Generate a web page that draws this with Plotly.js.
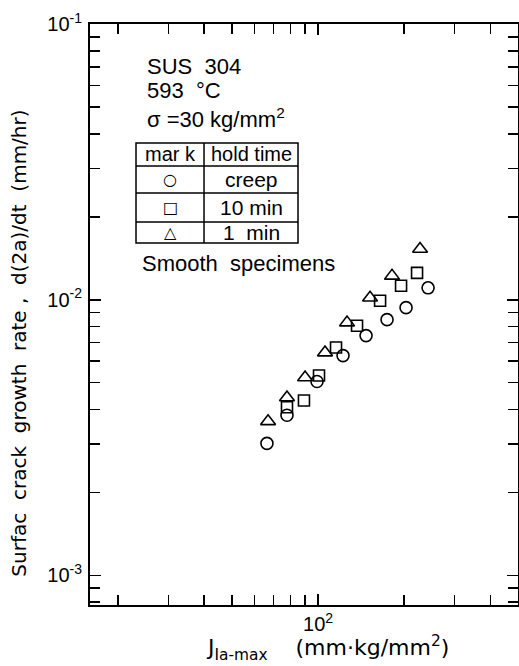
<!DOCTYPE html>
<html>
<head>
<meta charset="utf-8">
<script src="https://cdn.plot.ly/plotly-3.0.1.min.js"></script>
<style>html,body{margin:0;padding:0;background:#fff;}#chart{width:519px;height:666px;}</style>
</head>
<body>
<div id="chart"></div>
<script>
// J_Ia-max (mm·kg/mm²) and surface crack growth rate d(2a)/dt (mm/hr)
const creepJ   = [66.3, 77.9, 99.2, 122.3, 147.2, 174.3, 203.1, 242.5];
const creepRate = [3.01e-3, 3.81e-3, 5.05e-3, 6.27e-3, 7.41e-3, 8.47e-3, 9.36e-3, 1.105e-2];
const hold10J   = [77.9, 89.3, 100.8, 115.6, 136.9, 164.8, 195.1, 221.9];
const hold10Rate = [4.07e-3, 4.31e-3, 5.31e-3, 6.71e-3, 8.05e-3, 9.92e-3, 1.124e-2, 1.252e-2];
const hold1J    = [66.9, 77.9, 90.1, 105.8, 126.3, 152.0, 181.4, 227.3];
const hold1Rate = [3.62e-3, 4.42e-3, 5.22e-3, 6.43e-3, 8.26e-3, 1.017e-2, 1.221e-2, 1.529e-2];

const seriesNames = ["creep", "10 min", "1 min"];

const xTickVals = [100];
const xTickText = ["10<sup>2</sup>"];
const xMinorVals = [20, 30, 40, 50, 60, 70, 80, 90, 200, 300, 400];
const yTickVals = [1e-3, 1e-2, 1e-1];
const yTickText = ["10<sup>-3</sup>", "10<sup>-2</sup>", "10<sup>-1</sup>"];
const yMinorVals = [8e-4, 9e-4, 2e-3, 3e-3, 4e-3, 5e-3, 6e-3, 7e-3, 8e-3, 9e-3,
                    2e-2, 3e-2, 4e-2, 5e-2, 6e-2, 7e-2, 8e-2, 9e-2];

const xTitle = "J<sub>Ia-max</sub>    (mm·kg/mm<sup>2</sup>)";
const yTitle = "Surfac  crack  growth  rate ,  d(2a)/dt  (mm/hr)";

const F = "Liberation Sans, Arial, sans-serif";
const FT = "DejaVu Sans, sans-serif";

function tr(x, y, name, sym, size) {
  return {
    type: "scatter", mode: "markers", x: x, y: y, name: name,
    marker: {symbol: sym, size: size, color: "black", line: {color: "black", width: 1.6}},
    showlegend: false, hoverinfo: "x+y+name"
  };
}

const data = [
  tr(creepJ, creepRate, seriesNames[0], "circle-open", 12),
  tr(hold10J, hold10Rate, seriesNames[1], "square-open", 11),
  tr(hold1J, hold1Rate, seriesNames[2], "triangle-up-open", 13)
];

// table geometry (paper coords)
const tL = 0.1075, tM = 0.2664, tR = 0.486;
const rows = [0.7952, 0.7556, 0.7091, 0.6592, 0.6231];
const shapes = [];
const ln = {color: "black", width: 1.5};
shapes.push({type: "rect", xref: "paper", yref: "paper", x0: tL, x1: tR, y0: rows[4], y1: rows[0], line: ln});
shapes.push({type: "line", xref: "paper", yref: "paper", x0: tM, x1: tM, y0: rows[4], y1: rows[0], line: ln});
for (let i = 1; i < 4; i++) {
  shapes.push({type: "line", xref: "paper", yref: "paper", x0: tL, x1: tR, y0: rows[i], y1: rows[i], line: ln});
}

function ann(text, x, y, size, xanchor, fam, angle) {
  return {text: text, xref: "paper", yref: "paper", x: x, y: y, xanchor: xanchor || "left",
          yanchor: "middle", showarrow: false, textangle: angle || 0,
          font: {family: fam || F, size: size, color: "black"}};
}
const c1 = (tL + tM) / 2, c2 = (tM + tR) / 2;
const mid = i => (rows[i] + rows[i + 1]) / 2;
const annotations = [
  ann("SUS  304", 0.1285, 0.9277, 22),
  ann("593  °C", 0.1285, 0.8864, 22),
  ann("σ =30 kg/mm<sup>2</sup>", 0.1285, 0.838, 22),
  ann("mar k", c1, mid(0), 20, "center"),
  ann("hold time", c2, mid(0), 20, "center"),
  ann("○", c1, mid(1), 16, "center", FT),
  ann(seriesNames[0], c2, mid(1), 21, "center"),
  ann("□", c1, mid(2), 16, "center", FT),
  ann("10 min", c2, mid(2), 21, "center"),
  ann("△", c1, mid(3), 16, "center", FT),
  ann("1  min", c2, mid(3), 21, "center"),
  ann("Smooth  specimens", 0.1168, 0.5886, 22),
  ann(xTitle, 0.556, -0.074, 22, "center", FT),
  {text: yTitle, xref: "paper", yref: "paper", x: -0.168, y: 0.45, xanchor: "center", yanchor: "middle",
   showarrow: false, textangle: -90, font: {family: FT, size: 20, color: "black"}}
];

const axisCommon = {
  type: "log", showline: true, linewidth: 2, linecolor: "black", mirror: "ticks",
  ticks: "inside", ticklen: 11, tickwidth: 1.5, tickcolor: "black",
  showgrid: false, zeroline: false, tickmode: "array",
  tickfont: {family: F, size: 20, color: "black"}
};

const layout = {
  width: 519, height: 666,
  margin: {l: 90, r: 1, t: 24, b: 61},
  paper_bgcolor: "white", plot_bgcolor: "white",
  showlegend: false,
  xaxis: Object.assign({}, axisCommon, {
    range: [1.203, 2.699], tickvals: xTickVals, ticktext: xTickText,
    minor: {tickmode: "array", tickvals: xMinorVals, ticks: "inside", ticklen: 10, tickwidth: 1.5, tickcolor: "black", showgrid: false}
  }),
  yaxis: Object.assign({}, axisCommon, {
    range: [-3.108, -0.999], tickvals: yTickVals, ticktext: yTickText, ticklabelstandoff: 2,
    minor: {tickmode: "array", tickvals: yMinorVals, ticks: "inside", ticklen: 10, tickwidth: 1.5, tickcolor: "black", showgrid: false}
  }),
  shapes: shapes,
  annotations: annotations
};

Plotly.newPlot("chart", data, layout, {displayModeBar: false, staticPlot: true});
</script>
</body>
</html>
